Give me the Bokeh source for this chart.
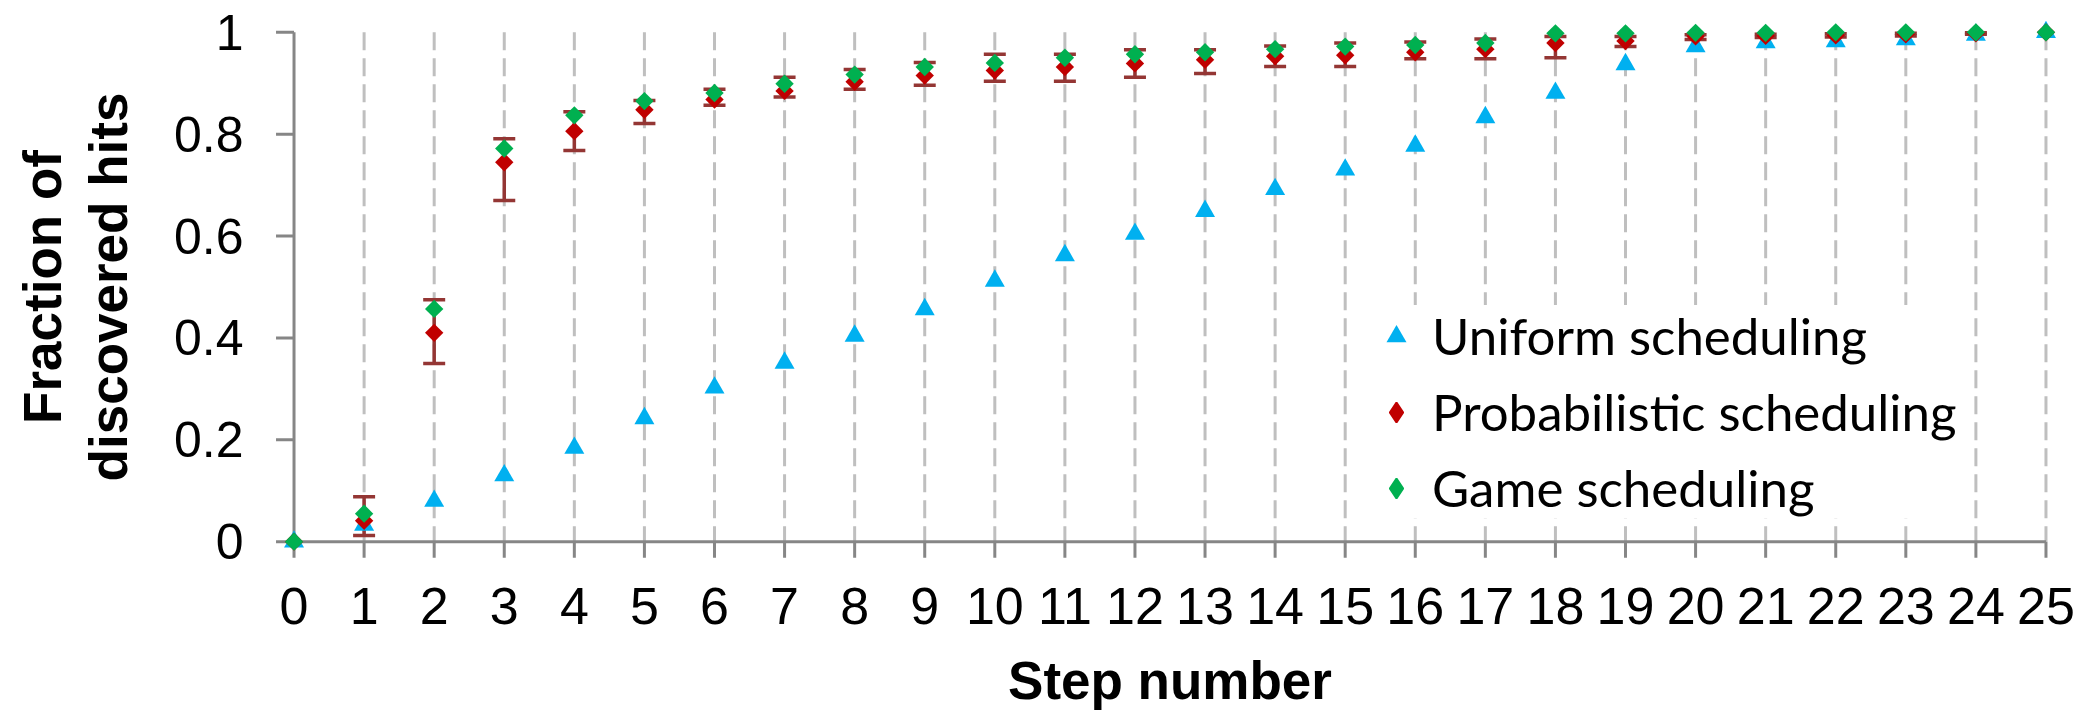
import math
from bokeh.plotting import figure
from bokeh.models import Range1d, FixedTicker, Legend, LegendItem
from bokeh.embed import file_html
from bokeh.resources import INLINE

# ---------------- data ----------------
steps = list(range(26))
y_ticks = [0, 0.2, 0.4, 0.6, 0.8, 1.0]
y_tick_labels = ["0", "0.2", "0.4", "0.6", "0.8", "1"]

uniform = [0.0, 0.033, 0.080, 0.130, 0.184, 0.242, 0.302, 0.351, 0.404, 0.456,
           0.512, 0.562, 0.604, 0.649, 0.692, 0.730, 0.777, 0.833, 0.881, 0.937,
           0.972, 0.980, 0.982, 0.986, 0.995, 1.0]
probabilistic = [0.0, 0.041, 0.410, 0.745, 0.806, 0.848, 0.868, 0.885, 0.903, 0.915,
                 0.925, 0.932, 0.939, 0.946, 0.953, 0.955, 0.961, 0.967, 0.979, 0.983,
                 0.992, 0.993, 0.994, 0.996, 0.998, 1.0]
prob_upper = [0.0, 0.088, 0.475, 0.791, 0.844, 0.866, 0.888, 0.912, 0.927, 0.941,
              0.957, 0.957, 0.966, 0.966, 0.973, 0.979, 0.981, 0.987, 0.992, 0.992,
              0.995, 0.996, 0.997, 0.998, 0.999, 1.0]
prob_lower = [0.0, 0.012, 0.350, 0.670, 0.768, 0.821, 0.857, 0.873, 0.888, 0.896,
              0.904, 0.904, 0.912, 0.919, 0.933, 0.933, 0.948, 0.948, 0.950, 0.972,
              0.986, 0.990, 0.991, 0.993, 0.996, 1.0]
game = [0.0, 0.055, 0.457, 0.772, 0.837, 0.865, 0.881, 0.899, 0.917, 0.932,
        0.940, 0.950, 0.957, 0.961, 0.967, 0.972, 0.975, 0.979, 0.998, 0.998,
        0.999, 0.999, 1.0, 1.0, 1.0, 1.0]

series_names = ["Uniform scheduling", "Probabilistic scheduling", "Game scheduling"]

# ---------------- style ----------------
CYAN = "#00B0F0"
RED = "#C00000"
GREEN = "#00B050"
ERR = "#943634"
AXIS = "#868686"
GRID = "#BFBFBF"
TICK_FONT = "Liberation Sans"

p = figure(width=2083, height=712, output_backend="svg", toolbar_location=None,
           x_range=Range1d(-0.35, 25.35), y_range=Range1d(-0.035, 1.035),
           min_border_left=269, min_border_right=13, min_border_top=14,
           min_border_bottom=151)
p.outline_line_color = None
p.background_fill_color = "white"
p.border_fill_color = "white"
p.xgrid.visible = False
p.ygrid.visible = False

x0, x1 = steps[0], steps[-1]
y0, y1 = y_ticks[0], y_ticks[-1]

# vertical dashed gridlines (one per step)
gx = steps[1:]
p.segment(x0=gx, y0=[y1] * len(gx), x1=gx, y1=[y0] * len(gx),
          line_color=GRID, line_width=3, line_dash="18 8")

# axis lines and outward tick marks
p.segment(x0=[x0, x0], y0=[y0, y0], x1=[x1, x0], y1=[y0, y1],
          line_color=AXIS, line_width=3)
p.ray(x=steps, y=[y0] * len(steps), length=16, length_units="screen",
      angle=-math.pi / 2, line_color=AXIS, line_width=3)
p.ray(x=[x0] * len(y_ticks), y=y_ticks, length=18, length_units="screen",
      angle=math.pi, line_color=AXIS, line_width=3)

# error bars
eb_x = [s for s, lo, hi in zip(steps, prob_lower, prob_upper) if hi > lo]
eb_lo = [lo for lo, hi in zip(prob_lower, prob_upper) if hi > lo]
eb_hi = [hi for lo, hi in zip(prob_lower, prob_upper) if hi > lo]
p.segment(x0=eb_x, y0=eb_lo, x1=eb_x, y1=eb_hi, line_color=ERR, line_width=3.5)
p.scatter(eb_x, eb_hi, marker="dash", size=22, line_color=ERR, line_width=3.5)
p.scatter(eb_x, eb_lo, marker="dash", size=22, line_color=ERR, line_width=3.5)

# markers
r_u = p.scatter(steps, uniform, marker="triangle", size=20,
                fill_color=CYAN, line_color=None)
r_p = p.scatter(steps, probabilistic, marker="square", angle=math.pi / 4, size=13,
                fill_color=RED, line_color=None)
r_g = p.scatter(steps, game, marker="square", angle=math.pi / 4, size=13,
                fill_color=GREEN, line_color=None)

# legend swatches: diamond glyphs of zero size in the plot (legend sizes them itself)
l_p = p.scatter(steps[:1], probabilistic[:1], marker="diamond", size=0,
                fill_color=RED, line_color=RED, line_width=2)
l_g = p.scatter(steps[:1], game[:1], marker="diamond", size=0,
                fill_color=GREEN, line_color=GREEN, line_width=2)

# axes (only labels; lines/ticks drawn above)
xa = p.xaxis[0]
xa.ticker = FixedTicker(ticks=steps)
xa.axis_line_color = None
xa.major_tick_line_color = None
xa.minor_tick_line_color = None
xa.major_tick_in = 0
xa.major_tick_out = 0
xa.major_label_text_font = TICK_FONT
xa.major_label_text_font_size = "52px"
xa.major_label_text_color = "black"
xa.major_label_standoff = 28
xa.axis_label = "Step number"
xa.axis_label_text_font = TICK_FONT
xa.axis_label_text_font_style = "bold"
xa.axis_label_text_font_size = "53px"
xa.axis_label_text_color = "black"
xa.axis_label_standoff = 24

ya = p.yaxis[0]
ya.ticker = FixedTicker(ticks=y_ticks)
ya.major_label_overrides = dict(zip(y_ticks, y_tick_labels))
ya.axis_line_color = None
ya.major_tick_line_color = None
ya.minor_tick_line_color = None
ya.major_tick_in = 0
ya.major_tick_out = 0
ya.major_label_text_font = TICK_FONT
ya.major_label_text_font_size = "50px"
ya.major_label_text_color = "black"
ya.major_label_standoff = 26
ya.axis_label = "Fraction of\ndiscovered hits"
ya.axis_label_text_font = TICK_FONT
ya.axis_label_text_font_style = "bold"
ya.axis_label_text_font_size = "53px"
ya.axis_label_text_color = "black"
ya.axis_label_text_align = "center"
ya.axis_label_text_line_height = 1.12
ya.axis_label_standoff = 33

legend = Legend(items=[LegendItem(label=series_names[0], renderers=[r_u]),
                       LegendItem(label=series_names[1], renderers=[l_p]),
                       LegendItem(label=series_names[2], renderers=[l_g])],
                location=(1102, 41), glyph_width=50, glyph_height=50,
                label_standoff=11, padding=20, spacing=15, margin=0,
                label_text_font="Lato", label_text_font_size="51px",
                label_text_color="black",
                background_fill_color="white", background_fill_alpha=1.0,
                border_line_color=None)
p.add_layout(legend)

open("out.html", "w").write(file_html(p, INLINE))
